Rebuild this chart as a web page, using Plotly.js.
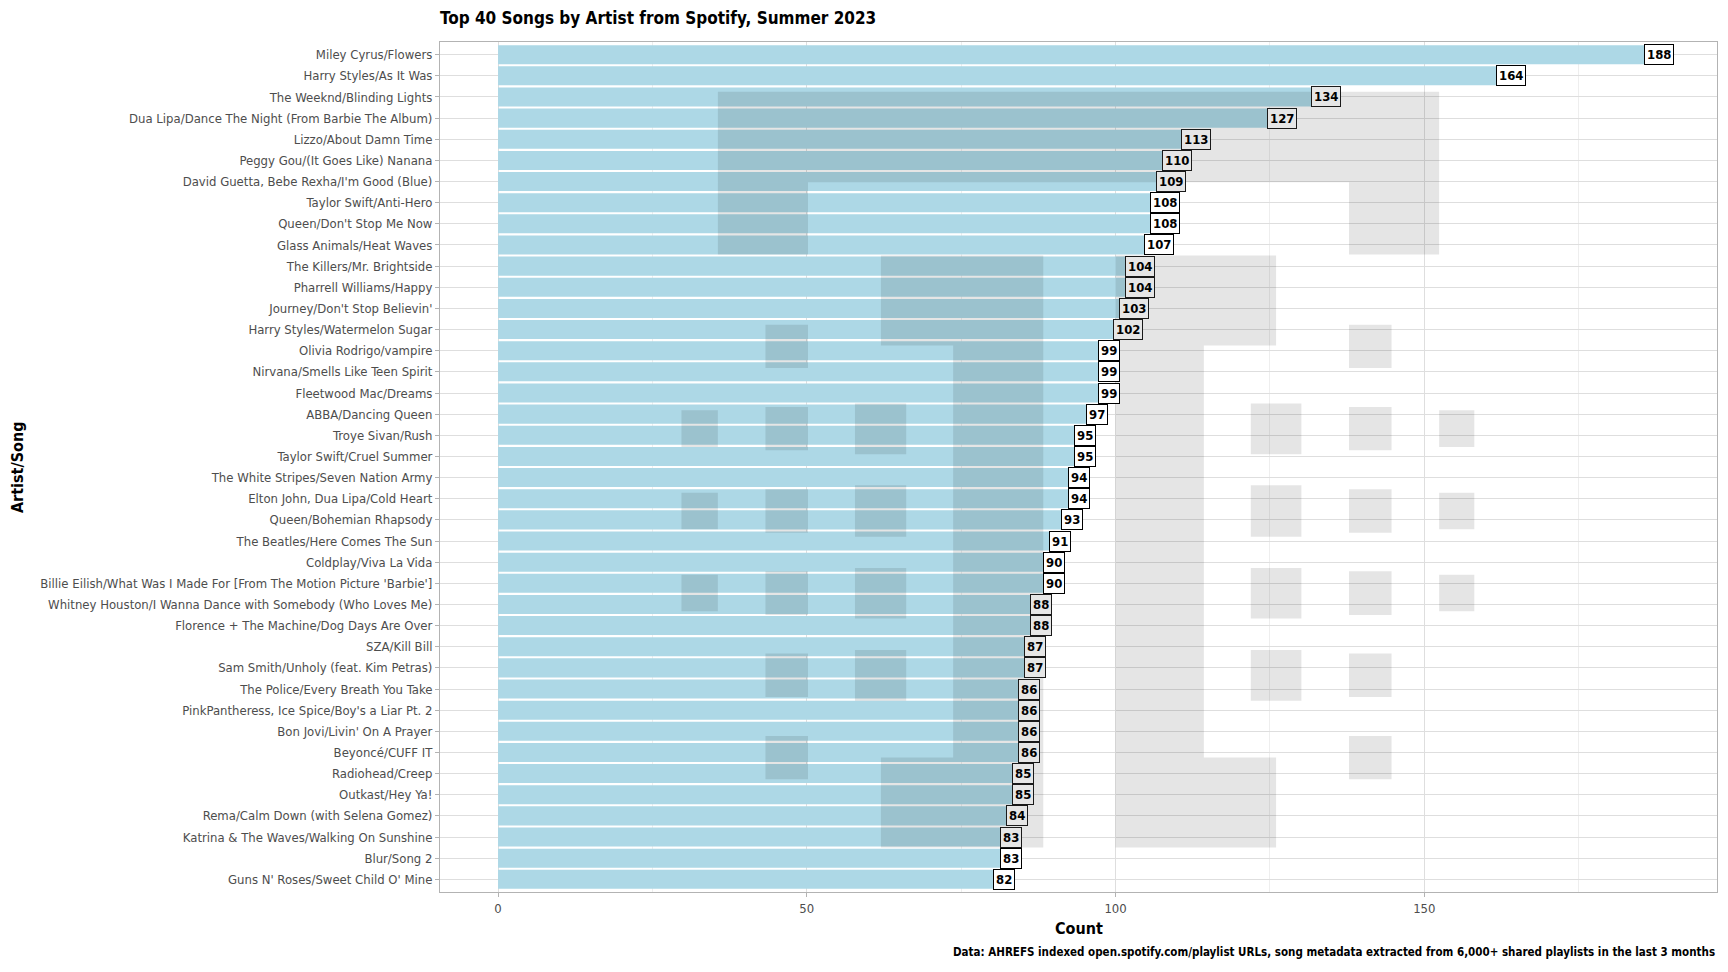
<!DOCTYPE html>
<html>
<head>
<meta charset="utf-8">
<script src="https://cdn.plot.ly/plotly-3.0.1.min.js"></script>
<style>html,body{margin:0;padding:0;background:#fff;}#chart{width:1728px;height:972px;}</style>
</head>
<body>
<div id="chart"></div>
<script>
// ---- data ----
const songs = [
  "Miley Cyrus/Flowers",
  "Harry Styles/As It Was",
  "The Weeknd/Blinding Lights",
  "Dua Lipa/Dance The Night (From Barbie The Album)",
  "Lizzo/About Damn Time",
  "Peggy Gou/(It Goes Like) Nanana",
  "David Guetta, Bebe Rexha/I'm Good (Blue)",
  "Taylor Swift/Anti-Hero",
  "Queen/Don't Stop Me Now",
  "Glass Animals/Heat Waves",
  "The Killers/Mr. Brightside",
  "Pharrell Williams/Happy",
  "Journey/Don't Stop Believin'",
  "Harry Styles/Watermelon Sugar",
  "Olivia Rodrigo/vampire",
  "Nirvana/Smells Like Teen Spirit",
  "Fleetwood Mac/Dreams",
  "ABBA/Dancing Queen",
  "Troye Sivan/Rush",
  "Taylor Swift/Cruel Summer",
  "The White Stripes/Seven Nation Army",
  "Elton John, Dua Lipa/Cold Heart",
  "Queen/Bohemian Rhapsody",
  "The Beatles/Here Comes The Sun",
  "Coldplay/Viva La Vida",
  "Billie Eilish/What Was I Made For [From The Motion Picture 'Barbie']",
  "Whitney Houston/I Wanna Dance with Somebody (Who Loves Me)",
  "Florence + The Machine/Dog Days Are Over",
  "SZA/Kill Bill",
  "Sam Smith/Unholy (feat. Kim Petras)",
  "The Police/Every Breath You Take",
  "PinkPantheress, Ice Spice/Boy's a Liar Pt. 2",
  "Bon Jovi/Livin' On A Prayer",
  "Beyoncé/CUFF IT",
  "Radiohead/Creep",
  "Outkast/Hey Ya!",
  "Rema/Calm Down (with Selena Gomez)",
  "Katrina & The Waves/Walking On Sunshine",
  "Blur/Song 2",
  "Guns N' Roses/Sweet Child O' Mine"
];
const counts = [188,164,134,127,113,110,109,108,108,107,104,104,103,102,99,99,99,97,95,95,94,94,93,91,90,90,88,88,87,87,86,86,86,86,85,85,84,83,83,82];
const xTicks = [0,50,100,150];

const titleText = "Top 40 Songs by Artist from Spotify, Summer 2023";
const xTitle = "Count";
const yTitle = "Artist/Song";
const captionText = "Data: AHREFS indexed open.spotify.com/playlist URLs, song metadata extracted from 6,000+ shared playlists in the last 3 months";

// ---- decorative background picture (semi-transparent grey blocks), [x0,x1,row0,row1] ----
const bgBlocks = [
  [35.6,152.4,1.75,6.03],[35.6,50.2,6.03,9.45],[137.8,152.4,6.03,9.45],
  [62.0,88.3,9.5,13.75],[73.7,88.3,13.75,33.24],[62.0,88.3,33.24,37.5],
  [100.0,126.0,9.5,13.75],[100.0,114.3,13.75,33.24],[100.0,126.0,33.24,37.5],
  [43.3,50.2,12.77,14.82],[137.8,144.7,12.77,14.82],
  [29.7,35.6,16.82,18.55],[43.3,50.2,16.66,18.71],[57.8,66.1,16.5,18.9],[121.9,130.1,16.5,18.9],[137.8,144.7,16.66,18.71],[152.4,158.1,16.82,18.55],
  [29.7,35.6,20.72,22.44],[43.3,50.2,20.55,22.61],[57.8,66.1,20.36,22.8],[121.9,130.1,20.36,22.8],[137.8,144.7,20.55,22.61],[152.4,158.1,20.72,22.44],
  [29.7,35.6,24.6,26.32],[43.3,50.2,24.43,26.5],[57.8,66.1,24.28,26.66],[121.9,130.1,24.28,26.66],[137.8,144.7,24.43,26.5],[152.4,158.1,24.6,26.32],
  [43.3,50.2,28.32,30.38],[57.8,66.1,28.16,30.55],[121.9,130.1,28.16,30.55],[137.8,144.7,28.32,30.38],
  [43.3,50.2,32.22,34.27],[137.8,144.7,32.22,34.27]
];

const FONT = "'Liberation Sans Narrow', 'DejaVu Sans Condensed', Roboto, sans-serif";

const trace = {
  type: 'bar',
  orientation: 'h',
  x: counts,
  y: songs,
  marker: {color: '#ADD8E6', line: {width: 0}},
  hoverinfo: 'x+y'
};

const shapes = bgBlocks.map(b => ({
  type: 'rect', xref: 'x', yref: 'y', layer: 'above',
  x0: b[0], x1: b[1], y0: b[2], y1: b[3],
  fillcolor: 'rgba(0,0,0,0.1)', line: {width: 0}
}));

function inBlock(x, r) {
  return bgBlocks.some(b => x >= b[0] && x <= b[1] && r >= b[2] && r <= b[3]);
}

const labelAnns = counts.map((c, i) => {
  const shaded = inBlock(c, i);
  return {
    x: c, y: songs[i], xref: 'x', yref: 'y',
    text: String(c), showarrow: false,
    xanchor: 'center', yanchor: 'middle',
    bgcolor: shaded ? '#e6e6e6' : '#ffffff',
    bordercolor: shaded ? '#1a1a1a' : '#000000', borderwidth: 1, borderpad: 2,
    font: {family: FONT, size: 13, color: '#000000', weight: 700}
  };
});

const extraAnns = [
  {text: xTitle, xref: 'paper', yref: 'paper', x: 0.5, y: -0.0424, xanchor: 'center', yanchor: 'middle',
   showarrow: false, font: {family: FONT, size: 16, color: '#000', weight: 700}},
  {text: yTitle, xref: 'paper', yref: 'paper', x: -0.3312, y: 0.5, xanchor: 'center', yanchor: 'middle',
   textangle: -90, showarrow: false, font: {family: FONT, size: 16, color: '#000', weight: 700}},
  {text: captionText, xref: 'paper', yref: 'paper', x: 1, y: -0.0706, xanchor: 'right', yanchor: 'middle',
   showarrow: false, font: {family: FONT, size: 11.5, color: '#000', weight: 700}}
];

const layout = {
  width: 1728, height: 972,
  margin: {l: 440, r: 11, t: 42, b: 80, pad: 0},
  paper_bgcolor: '#ffffff', plot_bgcolor: '#ffffff',
  showlegend: false,
  bargap: 0.1,
  title: {text: titleText, x: 0, xref: 'paper', xanchor: 'left', y: 1 - 18.5/972, yref: 'container', yanchor: 'middle',
          font: {family: FONT, size: 17, color: '#000', weight: 700}},
  xaxis: {
    range: [-9.4, 197.4], autorange: false,
    tickvals: xTicks, ticktext: xTicks.map(String),
    ticks: 'outside', ticklen: 4, tickcolor: '#b3b3b3', tickwidth: 1,
    tickfont: {family: FONT, size: 13, color: '#4d4d4d'},
    showgrid: true, gridcolor: '#dedede', gridwidth: 1,
    minor: {tick0: 25, dtick: 50, showgrid: true, gridcolor: '#eeeeee', gridwidth: 1, ticks: ''},
    zeroline: false, showline: true, mirror: true, linecolor: '#b3b3b3', linewidth: 1,
    fixedrange: true
  },
  yaxis: {
    type: 'category', categoryorder: 'array', categoryarray: songs,
    range: [39.6, -0.6], autorange: false,
    ticks: 'outside', ticklen: 4, tickcolor: '#b3b3b3', tickwidth: 1,
    tickfont: {family: FONT, size: 13, color: '#4d4d4d'},
    showgrid: true, gridcolor: '#dedede', gridwidth: 1,
    zeroline: false, showline: true, mirror: true, linecolor: '#b3b3b3', linewidth: 1,
    automargin: false, fixedrange: true
  },
  shapes: shapes,
  annotations: labelAnns.concat(extraAnns)
};

Plotly.newPlot('chart', [trace], layout, {displayModeBar: false, staticPlot: true});
</script>
</body>
</html>
